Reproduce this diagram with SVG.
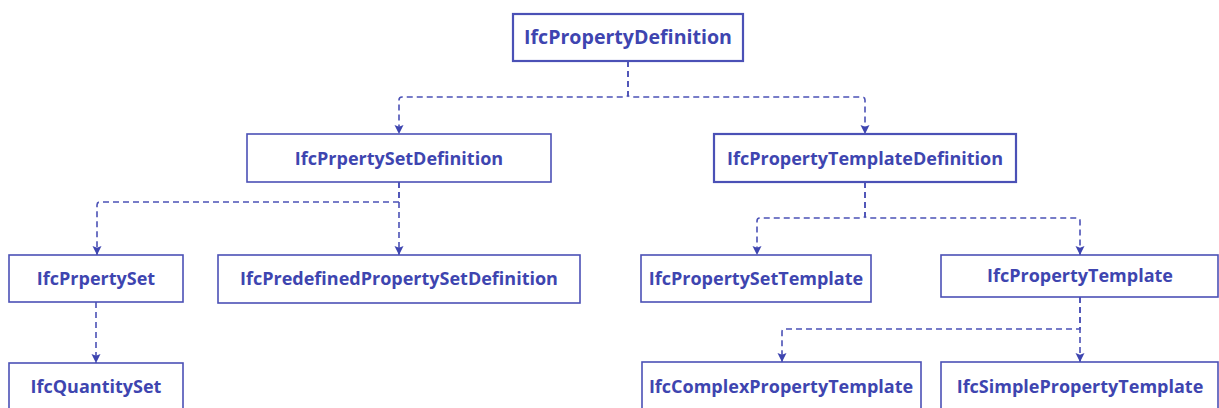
<svg xmlns="http://www.w3.org/2000/svg" width="1219" height="408" viewBox="0 0 1219 408">
  <style>
    .box { fill: #ffffff; stroke: #4b51b6; stroke-width: 1.6; }
    .box.strong { stroke-width: 2.2; }
    .label { font-family: "Open Sans", "Noto Sans", "Liberation Sans", sans-serif; font-weight: 700; font-size: 18px; fill: #3e45b0; text-anchor: middle; }
    .label.big { font-size: 19.6px; }
    .edge { fill: none; stroke: #4b51b6; stroke-width: 1.6; stroke-dasharray: 6 4; marker-end: url(#arrow); }
  </style>
  <defs>
    <marker id="arrow" viewBox="0 0 10 10" refX="10" refY="5" markerWidth="9" markerHeight="11" markerUnits="userSpaceOnUse" orient="auto">
      <path d="M0,0 L10,5 L0,10 L2,5 z" fill="#3e45b0"/>
    </marker>
  </defs>
  <rect width="1219" height="408" fill="#ffffff"/>

  <g id="connectors">
    <path class="edge" d="M628,61 V94 Q628,97 625,97 H402 Q399,97 399,100 V134"/>
    <path class="edge" d="M628,61 V94 Q628,97 631,97 H862 Q865,97 865,100 V134"/>
    <path class="edge" d="M399,182 V202 H100 Q97,202 97,205 V255"/>
    <path class="edge" d="M399,182 V255"/>
    <path class="edge" d="M865,182 V215 Q865,218 862,218 H760 Q757,218 757,221 V255"/>
    <path class="edge" d="M865,182 V215 Q865,218 868,218 H1077 Q1080,218 1080,221 V255"/>
    <path class="edge" d="M96,302 V363"/>
    <path class="edge" d="M1080,297 V329 H785 Q782,329 782,332 V362"/>
    <path class="edge" d="M1080,297 V362"/>
  </g>

  <g id="IfcPropertyDefinition">
    <rect class="box strong" x="513" y="14" width="230" height="47"/>
    <text class="label big" x="628" y="44">IfcPropertyDefinition</text>
  </g>
  <g id="IfcPrpertySetDefinition">
    <rect class="box" x="247" y="134" width="304" height="48"/>
    <text class="label" x="399" y="165">IfcPrpertySetDefinition</text>
  </g>
  <g id="IfcPropertyTemplateDefinition">
    <rect class="box strong" x="714" y="134" width="302" height="48"/>
    <text class="label" x="865" y="165">IfcPropertyTemplateDefinition</text>
  </g>
  <g id="IfcPrpertySet">
    <rect class="box" x="9" y="255" width="174" height="47"/>
    <text class="label" x="96" y="285">IfcPrpertySet</text>
  </g>
  <g id="IfcPredefinedPropertySetDefinition">
    <rect class="box" x="218" y="255" width="362" height="48"/>
    <text class="label" x="399" y="285">IfcPredefinedPropertySetDefinition</text>
  </g>
  <g id="IfcQuantitySet">
    <rect class="box" x="9" y="363" width="174" height="48"/>
    <text class="label" x="96" y="393">IfcQuantitySet</text>
  </g>
  <g id="IfcPropertySetTemplate">
    <rect class="box" x="641" y="255" width="230" height="47"/>
    <text class="label" x="756" y="285">IfcPropertySetTemplate</text>
  </g>
  <g id="IfcPropertyTemplate">
    <rect class="box" x="941" y="255" width="277" height="42"/>
    <text class="label" x="1080" y="282">IfcPropertyTemplate</text>
  </g>
  <g id="IfcComplexPropertyTemplate">
    <rect class="box" x="642" y="362" width="279" height="48"/>
    <text class="label" x="781" y="393">IfcComplexPropertyTemplate</text>
  </g>
  <g id="IfcSimplePropertyTemplate">
    <rect class="box" x="941" y="362" width="277" height="48"/>
    <text class="label" x="1080" y="393">IfcSimplePropertyTemplate</text>
  </g>
</svg>
